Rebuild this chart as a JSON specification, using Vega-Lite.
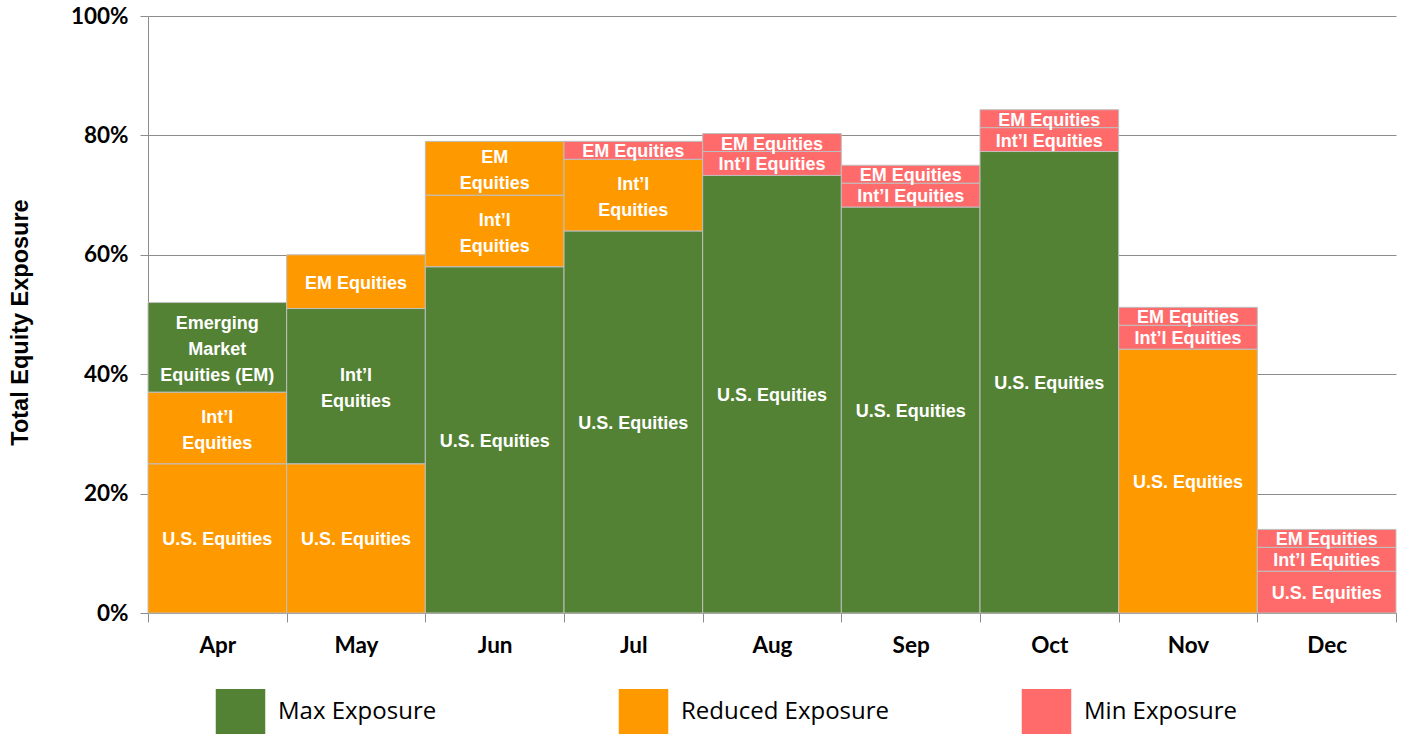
{
  "$schema": "https://vega.github.io/schema/vega-lite/v6.json",
  "width": 1248,
  "height": 597,
  "autosize": {"type": "none"},
  "padding": {"left": 148, "top": 16, "right": 21, "bottom": 136},
  "background": "white",
  "config": {"view": {"stroke": null}},
  "data": {
    "values": [
      {"month": "Apr", "order": 1, "value": 25, "exposure": "Reduced Exposure", "label": "U.S. Equities"},
      {"month": "Apr", "order": 2, "value": 12, "exposure": "Reduced Exposure", "label": "Int’l\nEquities"},
      {"month": "Apr", "order": 3, "value": 15, "exposure": "Max Exposure", "label": "Emerging\nMarket\nEquities (EM)"},
      {"month": "May", "order": 1, "value": 25, "exposure": "Reduced Exposure", "label": "U.S. Equities"},
      {"month": "May", "order": 2, "value": 26, "exposure": "Max Exposure", "label": "Int’l\nEquities"},
      {"month": "May", "order": 3, "value": 9, "exposure": "Reduced Exposure", "label": "EM Equities"},
      {"month": "Jun", "order": 1, "value": 58, "exposure": "Max Exposure", "label": "U.S. Equities"},
      {"month": "Jun", "order": 2, "value": 12, "exposure": "Reduced Exposure", "label": "Int’l\nEquities"},
      {"month": "Jun", "order": 3, "value": 9, "exposure": "Reduced Exposure", "label": "EM\nEquities"},
      {"month": "Jul", "order": 1, "value": 64, "exposure": "Max Exposure", "label": "U.S. Equities"},
      {"month": "Jul", "order": 2, "value": 12, "exposure": "Reduced Exposure", "label": "Int’l\nEquities"},
      {"month": "Jul", "order": 3, "value": 3, "exposure": "Min Exposure", "label": "EM Equities"},
      {"month": "Aug", "order": 1, "value": 73.3, "exposure": "Max Exposure", "label": "U.S. Equities"},
      {"month": "Aug", "order": 2, "value": 4, "exposure": "Min Exposure", "label": "Int’l Equities"},
      {"month": "Aug", "order": 3, "value": 3, "exposure": "Min Exposure", "label": "EM Equities"},
      {"month": "Sep", "order": 1, "value": 68, "exposure": "Max Exposure", "label": "U.S. Equities"},
      {"month": "Sep", "order": 2, "value": 4, "exposure": "Min Exposure", "label": "Int’l Equities"},
      {"month": "Sep", "order": 3, "value": 3, "exposure": "Min Exposure", "label": "EM Equities"},
      {"month": "Oct", "order": 1, "value": 77.3, "exposure": "Max Exposure", "label": "U.S. Equities"},
      {"month": "Oct", "order": 2, "value": 4, "exposure": "Min Exposure", "label": "Int’l Equities"},
      {"month": "Oct", "order": 3, "value": 3, "exposure": "Min Exposure", "label": "EM Equities"},
      {"month": "Nov", "order": 1, "value": 44.2, "exposure": "Reduced Exposure", "label": "U.S. Equities"},
      {"month": "Nov", "order": 2, "value": 4, "exposure": "Min Exposure", "label": "Int’l Equities"},
      {"month": "Nov", "order": 3, "value": 3, "exposure": "Min Exposure", "label": "EM Equities"},
      {"month": "Dec", "order": 1, "value": 7, "exposure": "Min Exposure", "label": "U.S. Equities"},
      {"month": "Dec", "order": 2, "value": 4, "exposure": "Min Exposure", "label": "Int’l Equities"},
      {"month": "Dec", "order": 3, "value": 3, "exposure": "Min Exposure", "label": "EM Equities"}
    ]
  },
  "transform": [
    {"stack": "value", "groupby": ["month"], "sort": [{"field": "order"}], "as": ["lo", "hi"]},
    {"calculate": "(datum.lo + datum.hi) / 2", "as": "mid"},
    {"calculate": "length(split(datum.label, '\\n'))", "as": "nlines"}
  ],
  "encoding": {
    "x": {
      "field": "month",
      "type": "nominal",
      "sort": ["Apr", "May", "Jun", "Jul", "Aug", "Sep", "Oct", "Nov", "Dec"],
      "scale": {"paddingInner": 0, "paddingOuter": 0},
      "axis": {
        "title": null,
        "labelAngle": 0,
        "tickBand": "extent",
        "grid": false,
        "domainColor": "#8C8C8C",
        "tickColor": "#8C8C8C",
        "tickSize": 9,
        "labelPadding": 12,
        "labelFont": "Lato",
        "labelFontWeight": "bold",
        "labelFontSize": 22.5,
        "labelColor": "black"
      }
    }
  },
  "layer": [
    {
      "mark": {"type": "bar", "stroke": "#BFBFBF", "strokeWidth": 1},
      "encoding": {
        "y": {
          "field": "lo",
          "type": "quantitative",
          "scale": {"domain": [0, 100]},
          "axis": {
            "values": [0, 20, 40, 60, 80, 100],
            "labelExpr": "datum.value + '%'",
            "grid": true,
            "gridColor": "#8C8C8C",
            "domainColor": "#8C8C8C",
            "tickColor": "#8C8C8C",
            "tickSize": 8,
            "labelPadding": 12,
            "labelFont": "Lato",
            "labelFontWeight": "bold",
            "labelFontSize": 22.5,
            "labelColor": "black",
            "title": "Total Equity Exposure",
            "titleFont": "Liberation Sans",
            "titleFontSize": 23.5,
            "titleFontWeight": "bold",
            "titleColor": "black",
            "titlePadding": 38,
            "titleY": 306
          }
        },
        "y2": {"field": "hi"},
        "color": {
          "field": "exposure",
          "type": "nominal",
          "scale": {
            "domain": ["Max Exposure", "Reduced Exposure", "Min Exposure"],
            "range": ["#548235", "#FF9900", "#FF6B6B"]
          },
          "legend": {
            "orient": "none",
            "legendX": 70,
            "legendY": 673,
            "direction": "horizontal",
            "columns": 3,
            "gridAlign": "all",
            "columnPadding": 131,
            "title": null,
            "padding": 0,
            "symbolType": "M-1.1,-1L1.1,-1L1.1,1L-1.1,1Z",
            "symbolSize": 2025,
            "symbolStrokeWidth": 0,
            "symbolOpacity": 1,
            "labelFont": "Open Sans",
            "labelFontSize": 24,
            "labelOffset": 15,
            "labelLimit": 400,
            "labelColor": "black"
          }
        }
      }
    },
    {
      "transform": [{"filter": "datum.nlines == 1"}],
      "mark": {
        "type": "text",
        "color": "white",
        "font": "Liberation Sans",
        "fontWeight": "bold",
        "fontSize": 18,
        "align": "center",
        "baseline": "middle",
        "dy": 2
      },
      "encoding": {
        "y": {"field": "mid", "type": "quantitative"},
        "text": {"field": "label"}
      }
    },
    {
      "transform": [{"filter": "datum.nlines == 2"}],
      "mark": {
        "type": "text",
        "color": "white",
        "font": "Liberation Sans",
        "fontWeight": "bold",
        "fontSize": 18,
        "lineBreak": "\n",
        "lineHeight": 26,
        "align": "center",
        "baseline": "middle",
        "dy": -10
      },
      "encoding": {
        "y": {"field": "mid", "type": "quantitative"},
        "text": {"field": "label"}
      }
    },
    {
      "transform": [{"filter": "datum.nlines == 3"}],
      "mark": {
        "type": "text",
        "color": "white",
        "font": "Liberation Sans",
        "fontWeight": "bold",
        "fontSize": 18,
        "lineBreak": "\n",
        "lineHeight": 26,
        "align": "center",
        "baseline": "middle",
        "dy": -23
      },
      "encoding": {
        "y": {"field": "mid", "type": "quantitative"},
        "text": {"field": "label"}
      }
    }
  ]
}
